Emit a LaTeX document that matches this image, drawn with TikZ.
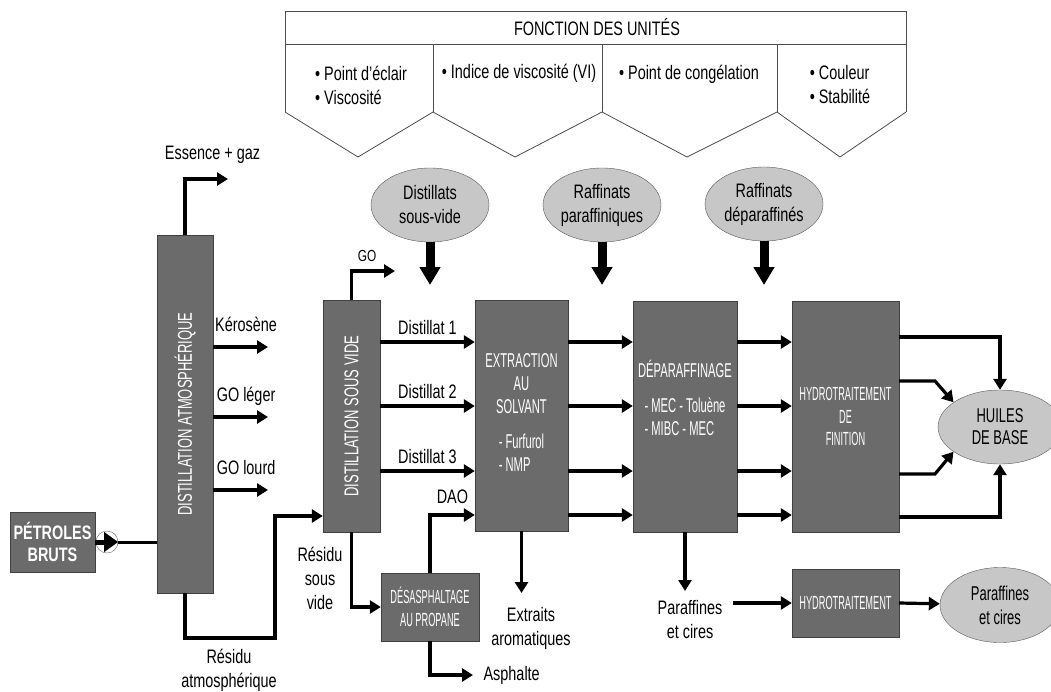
\documentclass[tikz,border=0pt]{standalone}
\usepackage{fontspec}
\setmainfont[FakeStretch=0.74]{Liberation Sans}
\newfontfamily\colfont[FakeStretch=0.65]{Liberation Sans}
\newfontfamily\unitfont[FakeStretch=0.56]{Liberation Sans}
\newfontfamily\slimfont[FakeStretch=0.485]{Liberation Sans}
\usepackage{graphicx}
\usetikzlibrary{arrows.meta,shapes.geometric}

\begin{document}
\begin{tikzpicture}[x=1pt,y=-1pt,
    every node/.style={font=\fontsize{19.5}{24}\selectfont},
    unit/.style={draw=black!75, fill=black!58, text=white, inner sep=0pt, align=center,
      font=\unitfont\fontsize{20}{23}\selectfont},
    oval/.style={ellipse, draw=black!65, fill=black!22, inner sep=0pt, align=center,
      minimum width=118pt, minimum height=74pt},
    flow/.style={line width=3.2pt, -{Triangle[length=11pt,width=13pt]}},
    bigflow/.style={line width=9pt, -{Triangle[length=18pt,width=20pt]}},
    tag/.style={inner sep=0pt, text height=14pt, text depth=4pt},
    note/.style={inner sep=0pt, align=center},
    grid/.style={draw=black!70, line width=0.8pt}]
  \useasboundingbox (0,0) rectangle (1051,691);

  % Table of the unit functions
  \draw[grid] (285,11) rectangle (906,44);
  \foreach \x in {285,433,602,777,906}
    \draw[grid] (\x,44) -- (\x,112);
  \draw[grid] (285,112) -- (358,157) -- (433,112) -- (515,157) -- (602,112)
    -- (687,157) -- (777,112) -- (840,157) -- (906,112);
  \node (fct) at (597,27) {FONCTION DES UNITÉS};
  \node[align=left] (fct1) at (361,85) {• Point d'éclair\\• Viscosité};
  \node (fct2) at (519,73) {• Indice de viscosité (VI)};
  \node (fct3) at (689,74) {• Point de congélation};
  \node[align=left] (fct4) at (840,85) {• Couleur\\• Stabilité};

  % Intermediate products
  \node[oval] (distsv) at (430,205) {Distillats\\sous-vide};
  \node[oval] (rafpar) at (602,205) {Raffinats\\paraffiniques};
  \node[oval] (rafdep) at (764,204) {Raffinats\\déparaffinés};
  \coordinate (distsvin) at (430,285);
  \coordinate (rafparin) at (602,285);
  \coordinate (rafdepin) at (764,285);
  \draw[bigflow] (distsv) -- (distsvin);
  \draw[bigflow] (rafpar) -- (rafparin);
  \draw[bigflow] (rafdep) -- (rafdepin);

  % Units
  \node[unit, font=\bfseries\fontsize{19.5}{22}\selectfont, minimum width=85pt, minimum height=60pt] (brut) at (52.5,542) {PÉTROLES\\BRUTS};
  \node[circle, draw=black!60, fill=white, minimum size=22pt, inner sep=0pt] (pompe) at (107,542) {};
  \node[unit, minimum width=56pt, minimum height=358pt] (atm) at (185,414) {\colfont\rotatebox{90}{DISTILLATION ATMOSPHÉRIQUE}};
  \node[unit, minimum width=57pt, minimum height=232pt] (vac) at (351.5,416) {\colfont\rotatebox{90}{DISTILLATION SOUS VIDE}};
  \node[unit, minimum width=93pt, minimum height=231pt] (extr) at (521.5,415.5) {EXTRACTION\\AU\\SOLVANT\\[12pt]\begin{tabular}[t]{@{}l@{}}- Furfurol\\- NMP\end{tabular}};
  \node[unit, minimum width=104pt, minimum height=231pt,
    label={[text=white, font=\unitfont\fontsize{20}{23}\selectfont, align=center, yshift=15pt]center:{DÉPARAFFINAGE\\[12pt]\begin{tabular}[t]{@{}l@{}}- MEC - Toluène\\- MIBC - MEC\end{tabular}}}] (depar) at (685,416.5) {};
  \node[unit, font=\slimfont\fontsize{19}{22.5}\selectfont, minimum width=107pt, minimum height=231pt] (hydrofin) at (845.5,416.5) {HYDROTRAITEMENT\\DE\\FINITION};
  \node[unit, font=\slimfont\fontsize{19}{22}\selectfont, minimum width=107pt, minimum height=68pt] (hydro) at (845.5,603) {HYDROTRAITEMENT};
  \node[unit, font=\slimfont\fontsize{19}{23}\selectfont, minimum width=98pt, minimum height=68pt] (desasph) at (430,607) {DÉSASPHALTAGE\\AU PROPANE};
  \node[oval, font=\colfont\fontsize{20}{22}\selectfont, minimum width=124pt] (huiles) at (1000,427) {HUILES\\DE BASE};
  \node[oval, font=\colfont\fontsize{20}{24}\selectfont, minimum width=120pt, minimum height=75pt] (paraf) at (1000,605) {Paraffines\\et cires};

  % Atmospheric distillation
  \coordinate (essence) at (228,179);
  \coordinate (kero) at (268,347);
  \coordinate (gol) at (268,417);
  \coordinate (gold) at (268,490);
  \draw[line width=5pt, -{Triangle[length=14pt,width=19pt]}] (brut) -- (pompe.east);
  \draw[line width=3pt] (pompe.east) -- (pompe.east -| atm.west);
  \draw[flow] (atm.north) |- node[tag, above=14pt, pos=0.82] {Essence + gaz} (essence);
  \draw[flow] (atm.east |- kero) -- node[tag, above=10pt, pos=0.6] {Kérosène} (kero);
  \draw[flow] (atm.east |- gol) -- node[tag, above=10pt, pos=0.6] {GO léger} (gol);
  \draw[flow] (atm.east |- gold) -- node[tag, above=10pt, pos=0.6] {GO lourd} (gold);
  \draw[flow] (atm.south) |- (275,638) |- (vac.west |- 0,516);
  \node[note] (ratm) at (229,670) {Résidu\\atmosphérique};

  % Vacuum distillation
  \coordinate (gov) at (395,271);
  \coordinate (asph) at (473,675);
  \coordinate (extrout) at (521.5,593);
  \draw[flow] (vac.north) |- node[tag, font=\fontsize{16}{18}\selectfont, above=4pt, pos=0.68] {GO} (gov);
  \foreach \y/\n in {342/1, 406/2, 471/3}
    \draw[flow] (vac.east |- 0,\y) -- node[tag, above=2pt] {Distillat \n} (extr.west |- 0,\y);
  \draw[flow] (vac.south) |- (desasph.west);
  \node[note] (rsv) at (320,578) {Résidu\\sous\\vide};
  \draw[flow] (desasph.north) |- node[tag, above=6pt, pos=0.75] {DAO} (extr.west |- 0,515);
  \draw[flow] (desasph.south) |- node[tag, right=9pt, pos=1] {Asphalte} (asph);
  \draw[flow] (extr.south) -- (extrout);
  \node[note] (extlab) at (531,628) {Extraits\\aromatiques};

  % Dewaxing and finishing
  \foreach \y in {342,406,471,515} {
    \draw[flow] (extr.east |- 0,\y) -- (depar.west |- 0,\y);
    \draw[flow] (depar.east |- 0,\y) -- (hydrofin.west |- 0,\y);
  }
  \coordinate (deparout) at (685,591);
  \draw[flow] (depar.south) -- (deparout);
  \node[note] (parlab) at (690,620) {Paraffines\\et cires};
  \draw[flow] ([xshift=10pt]parlab.east |- hydro.west) -- (hydro.west);
  \draw[flow] (hydro.east) -- (paraf);

  % Base oils
  \draw[flow] (hydrofin.east |- 0,337) -| (huiles.north);
  \draw[flow] (hydrofin.east |- 0,381) -- (935,381) -- (huiles.152);
  \draw[flow] (hydrofin.east |- 0,474) -- (935,474) -- (huiles.208);
  \draw[flow] (hydrofin.east |- 0,517) -| (huiles.south);
\end{tikzpicture}
\end{document}
